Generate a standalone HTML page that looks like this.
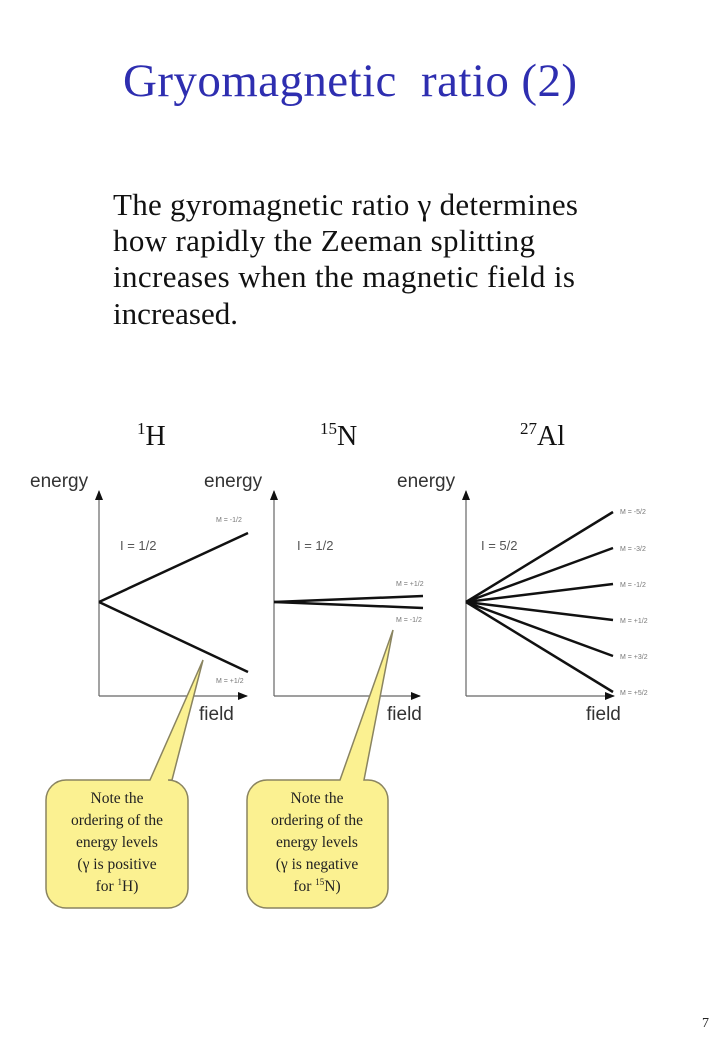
<!DOCTYPE html>
<html><head><meta charset="utf-8"><style>
html,body{margin:0;padding:0;background:#fff}
svg{display:block}
.s{font-family:"Liberation Serif",serif}
.a{font-family:"Liberation Sans",sans-serif}
</style></head><body>
<svg width="720" height="1039" viewBox="0 0 720 1039" xmlns="http://www.w3.org/2000/svg">
<defs><marker id="ar" markerWidth="10" markerHeight="10" refX="9" refY="5" orient="auto" markerUnits="userSpaceOnUse"><path d="M0,1 L10,5 L0,9 Z" fill="#111"/></marker></defs>
<text class="s" x="123" y="96" font-size="47" fill="#2e2eb0" textLength="454" xml:space="preserve">Gryomagnetic  ratio (2)</text>
<g class="s" font-size="31" fill="#111">
<text x="113" y="215" textLength="465">The gyromagnetic ratio γ determines</text>
<text x="113" y="251" textLength="422">how rapidly the Zeeman splitting</text>
<text x="113" y="287" textLength="462">increases when the magnetic field is</text>
<text x="113" y="324" textLength="125">increased.</text>
</g>
<g class="s" font-size="28" fill="#111">
<text x="137" y="445"><tspan font-size="17" dy="-11">1</tspan><tspan dy="11">H</tspan></text>
<text x="320" y="445"><tspan font-size="17" dy="-11">15</tspan><tspan dy="11">N</tspan></text>
<text x="520" y="445"><tspan font-size="17" dy="-11">27</tspan><tspan dy="11">Al</tspan></text>
</g>
<g class="a" fill="#333" font-size="19">
<text x="30" y="487">energy</text><text x="204" y="487">energy</text><text x="397" y="487">energy</text>
<text x="199" y="720">field</text><text x="387" y="720">field</text><text x="586" y="720">field</text>
</g>
<g class="a" fill="#555" font-size="13">
<text x="120" y="550">I = 1/2</text><text x="297" y="550">I = 1/2</text><text x="481" y="550">I = 5/2</text>
</g>
<g class="a" fill="#777" font-size="7">
<text x="216" y="522">M = -1/2</text><text x="216" y="683">M = +1/2</text>
<text x="396" y="586">M = +1/2</text><text x="396" y="622">M = -1/2</text>
<text x="620" y="514">M = -5/2</text><text x="620" y="551">M = -3/2</text><text x="620" y="587">M = -1/2</text>
<text x="620" y="623">M = +1/2</text><text x="620" y="659">M = +3/2</text><text x="620" y="695">M = +5/2</text>
</g>
<g stroke="#666" stroke-width="1.2" fill="none" marker-end="url(#ar)">
<line x1="99" y1="696" x2="99" y2="491"/><line x1="99" y1="696" x2="247" y2="696"/>
<line x1="274" y1="696" x2="274" y2="491"/><line x1="274" y1="696" x2="420" y2="696"/>
<line x1="466" y1="696" x2="466" y2="491"/><line x1="466" y1="696" x2="614" y2="696"/>
</g>
<g stroke="#111" stroke-width="2.5">
<line x1="99" y1="602" x2="248" y2="533"/><line x1="99" y1="602" x2="248" y2="672"/>
<line x1="274" y1="602" x2="423" y2="596"/><line x1="274" y1="602" x2="423" y2="608"/>
<line x1="466" y1="602" x2="613" y2="512"/><line x1="466" y1="602" x2="613" y2="548"/>
<line x1="466" y1="602" x2="613" y2="584"/><line x1="466" y1="602" x2="613" y2="620"/>
<line x1="466" y1="602" x2="613" y2="656"/><line x1="466" y1="602" x2="613" y2="692"/>
</g>
<g fill="#fbf191" stroke="#8a8460" stroke-width="1.5">
<path d="M66,780 L150,780 L203,660 L172,780 L168,780 A20,20 0 0 1 188,800 L188,888 A20,20 0 0 1 168,908 L66,908 A20,20 0 0 1 46,888 L46,800 A20,20 0 0 1 66,780 Z"/>
<path d="M267,780 L340,780 L393,630 L364,780 L368,780 A20,20 0 0 1 388,800 L388,888 A20,20 0 0 1 368,908 L267,908 A20,20 0 0 1 247,888 L247,800 A20,20 0 0 1 267,780 Z"/>
</g>
<g class="s" font-size="15.5" fill="#222" text-anchor="middle">
<text x="117" y="803">Note the</text><text x="117" y="825">ordering of the</text><text x="117" y="847">energy levels</text><text x="117" y="869">(γ is positive</text><text x="117" y="891">for <tspan font-size="9" dy="-6">1</tspan><tspan dy="6">H)</tspan></text>
<text x="317" y="803">Note the</text><text x="317" y="825">ordering of the</text><text x="317" y="847">energy levels</text><text x="317" y="869">(γ is negative</text><text x="317" y="891">for <tspan font-size="9" dy="-6">15</tspan><tspan dy="6">N)</tspan></text>
</g>
<text class="s" x="702" y="1027" font-size="14" fill="#222">7</text>
</svg>
</body></html>
